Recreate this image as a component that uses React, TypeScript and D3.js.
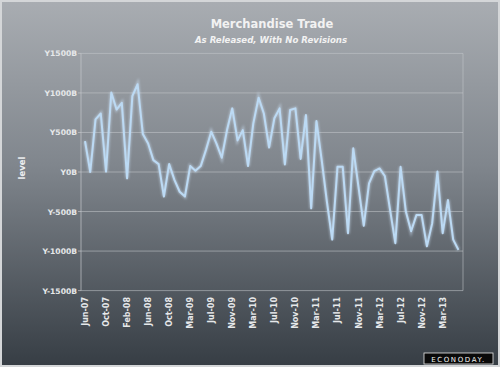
import React from "react";
import * as d3 from "d3";

const months: string[] = [
  "Jun-07","Jul-07","Aug-07","Sep-07","Oct-07","Nov-07","Dec-07",
  "Jan-08","Feb-08","Mar-08","Apr-08","May-08","Jun-08","Jul-08","Aug-08","Sep-08","Oct-08","Nov-08","Dec-08",
  "Feb-09","Mar-09","Apr-09","May-09","Jun-09","Jul-09","Aug-09","Sep-09","Oct-09","Nov-09","Dec-09",
  "Jan-10","Feb-10","Mar-10","Apr-10","May-10","Jun-10","Jul-10","Aug-10","Sep-10","Oct-10","Nov-10","Dec-10",
  "Jan-11","Feb-11","Mar-11","Apr-11","May-11","Jun-11","Jul-11","Aug-11","Sep-11","Oct-11","Nov-11","Dec-11",
  "Jan-12","Feb-12","Mar-12","Apr-12","May-12","Jun-12","Jul-12","Aug-12","Sep-12","Oct-12","Nov-12","Dec-12",
  "Jan-13","Feb-13","Mar-13","Apr-13","May-13","Jun-13",
];

const tradeValues: number[] = [
  390, 0, 665, 740, 5, 1005, 790, 875, -80, 960, 1110, 480, 360, 150, 100, -310, 100, -100, -250, -310,
  75, 15, 75, 280, 510, 360, 180, 530, 805, 400, 530, 75, 615, 940, 740, 310, 680, 805, 95, 785,
  805, 165, 720, -460, 645, 150, -380, -855, 65, 65, -775, 300, -190, -680, -145, 10, 45, -50, -480, -900,
  65, -500, -750, -545, -545, -940, -650, 5, -775, -355, -855, -985,
];

const yTicks: number[] = [1500, 1000, 500, 0, -500, -1000, -1500];
const xTickLabels: string[] = months.filter((_, i) => i % 4 === 0);

const title = "Merchandise Trade";
const subtitle = "As Released, With No Revisions";
const yAxisTitle = "level";

export default function App() {
  const W = 500, H = 367;
  const plotLeft = 81, plotRight = 463, plotTop = 53.4, plotBottom = 290.6;
  const x = d3.scalePoint<string>().domain(months).range([85, 85 + 71 * 5.26]);
  const y = d3.scaleLinear().domain([-1500, 1500]).range([plotBottom, plotTop]);
  const line = d3
    .line<number>()
    .x((_, i) => x(months[i]) as number)
    .y((d) => y(d));
  const path = line(tradeValues) || "";
  const font = "'DejaVu Sans', Verdana, sans-serif";

  return (
    <svg
      width={W}
      height={H}
      style={{ position: "absolute", left: 0, top: 0, display: "block" }}
    >
      <defs>
        <linearGradient id="bg" x1="0" y1="0" x2="0" y2="1">
          <stop offset="0" stopColor="#a9adb2" />
          <stop offset="0.45" stopColor="#80868d" />
          <stop offset="1" stopColor="#363d44" />
        </linearGradient>
        <filter id="glow" x="-5%" y="-5%" width="110%" height="110%">
          <feGaussianBlur stdDeviation="0.8" />
        </filter>
      </defs>
      <rect x={0} y={0} width={W} height={H} fill="url(#bg)" />
      <rect x={1} y={1} width={W - 2} height={H - 2} fill="none" stroke="#d4d6d8" strokeWidth={2} />

      <text x={272} y={28} textAnchor="middle" fill="#f2f2f2" fontFamily={font} fontWeight="bold" fontSize={11.5}>
        {title}
      </text>
      <text x={271} y={43} textAnchor="middle" fill="#f2f2f2" fontFamily={font} fontWeight="bold" fontStyle="italic" fontSize={8.6}>
        {subtitle}
      </text>

      {yTicks.map((t) => (
        <g key={t}>
          <line x1={plotLeft} x2={plotRight} y1={y(t)} y2={y(t)} stroke="#c4c8cc" strokeOpacity={0.55} strokeWidth={1} />
          <line x1={plotLeft - 3} x2={plotLeft} y1={y(t)} y2={y(t)} stroke="#c4c8cc" strokeOpacity={0.7} />
          <text x={77} y={y(t) + 3} textAnchor="end" fill="#e6e8ea" fontFamily={font} fontWeight="bold" fontSize={7.6}>
            {`Y${t}B`}
          </text>
        </g>
      ))}
      <line x1={plotLeft} x2={plotLeft} y1={plotTop} y2={plotBottom} stroke="#c4c8cc" strokeOpacity={0.7} />
      <line x1={plotRight} x2={plotRight} y1={plotTop} y2={plotBottom} stroke="#c4c8cc" strokeOpacity={0.55} />

      <text
        transform={`translate(25,168) rotate(-90)`}
        textAnchor="middle"
        fill="#eceef0"
        fontFamily={font}
        fontWeight="bold"
        fontSize={8.5}
      >
        {yAxisTitle}
      </text>

      {xTickLabels.map((m) => (
        <text
          key={m}
          transform={`translate(${(x(m) as number) + 3},297) rotate(-90)`}
          textAnchor="end"
          fill="#e6e8ea"
          fontFamily={font}
          fontWeight="bold"
          fontSize={8}
        >
          {m}
        </text>
      ))}

      <path d={path} fill="none" stroke="#cfe6fb" strokeOpacity={0.5} strokeWidth={3.4} filter="url(#glow)" />
      <path d={path} fill="none" stroke="#bcdaf4" strokeWidth={2} strokeLinejoin="round" />

      <rect x={424} y={353} width={69} height={11} fill="#0a0a0a" stroke="#e8e8e8" strokeWidth={0.8} />
      <text x={458.5} y={361.5} textAnchor="middle" fill="#f4f4f4" fontFamily={font} fontSize={7} letterSpacing={1.6}>
        ECONODAY.
      </text>
    </svg>
  );
}
